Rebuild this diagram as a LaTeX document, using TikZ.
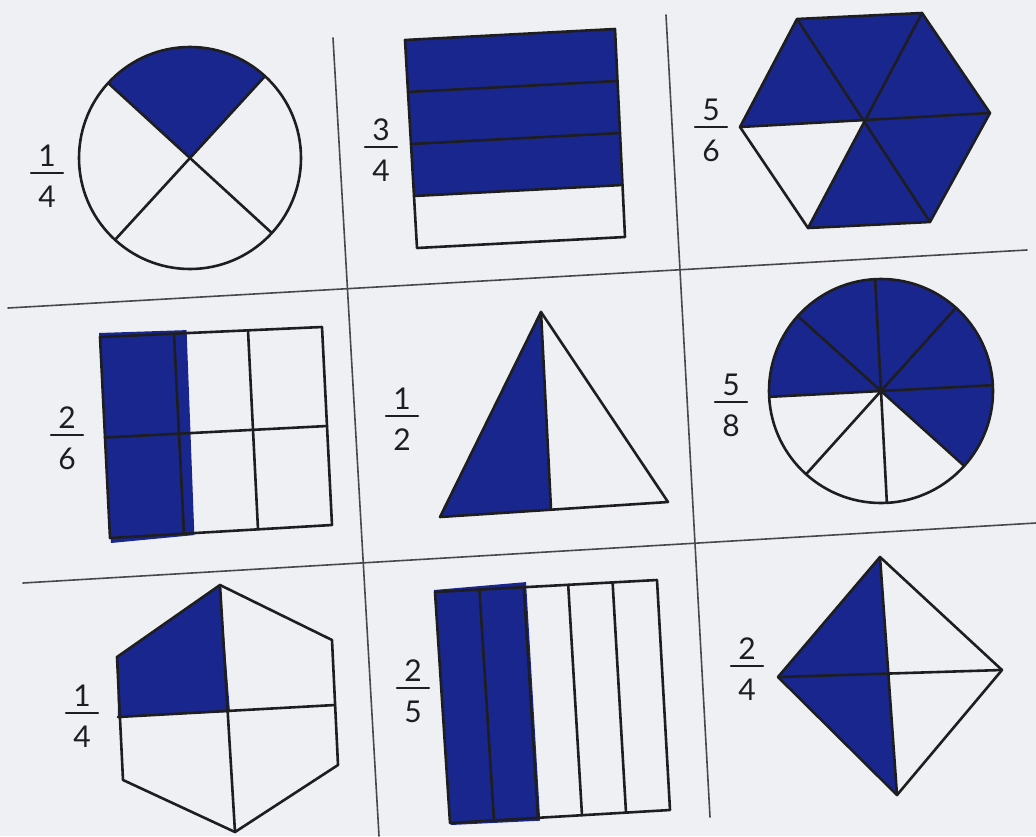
\documentclass[tikz,border=0pt]{standalone}
\usepackage{fontspec}
\setmainfont{Lato}
\usetikzlibrary{calc}
\definecolor{ink}{RGB}{24,38,142}
\definecolor{paper}{RGB}{239,240,243}
\definecolor{rulegray}{RGB}{72,72,76}
\definecolor{pen}{RGB}{30,30,32}

% fraction label: #1 name, #2 centre of the bar, #3 numerator, #4 denominator
\newcommand{\fraclabel}[4]{%
  \coordinate (#1) at (#2);
  \draw[fracbar] ($(#1)+(-16,0)$) -- ($(#1)+(16,0)$);
  \node[digit, anchor=south] (#1n) at ($(#1)+(0,-6)$) {#3};
  \node[digit, anchor=north] (#1d) at ($(#1)+(0,13)$) {#4};
}

\begin{document}
\begin{tikzpicture}[x=1pt, y=-1pt, line join=round, line cap=round,
    outline/.style={line width=2.6pt, pen},
    inked/.style={fill=ink},
    gridline/.style={line width=1.6pt, rulegray},
    fracbar/.style={line width=2.4pt, pen},
    digit/.style={inner sep=0pt, text=pen, font=\fontsize{30}{34}\selectfont}]
  \fill[paper] (0,0) rectangle (1036,836);
  \useasboundingbox (0,0) rectangle (1036,836);
  % y points down here, so angles run clockwise

  % the grid, slightly skewed as on the sheet
  \draw[gridline] (333,38) -- (379,836);
  \draw[gridline] (666,15) -- (710,817);
  \draw[gridline] (8,308) -- (1027,250);
  \draw[gridline] (23,583) -- (1036,523);

  % 1/4 circle
  \coordinate (c1) at (190,158);
  \fill[inked] (c1) -- ($(c1)+(-47.5:111)$) arc[start angle=-47.5, end angle=-137.5, radius=111] -- cycle;
  \draw[outline] (c1) circle[radius=111];
  \foreach \a in {-47.5,-137.5,-227.5,-317.5}
    \draw[outline] (c1) -- ($(c1)+(\a:111)$);
  \fraclabel{f1}{47,173}{1}{4}

  % 3/4 rectangle
  \coordinate (r2a) at (405,40); \coordinate (r2b) at (615,29);
  \coordinate (r2c) at (625,237); \coordinate (r2d) at (417,248);
  \fill[inked] (r2a) -- (r2b) -- ($(r2b)!0.75!(r2c)$) -- ($(r2a)!0.75!(r2d)$) -- cycle;
  \draw[outline] (r2a) -- (r2b) -- (r2c) -- (r2d) -- cycle;
  \foreach \t in {0.25,0.5,0.75}
    \draw[outline] ($(r2a)!\t!(r2d)$) -- ($(r2b)!\t!(r2c)$);
  \fraclabel{f2}{381,147}{3}{4}

  % 5/6 hexagon
  \coordinate (h3o) at (865,121);
  \coordinate (h3l) at (740,127); \coordinate (h3tl) at (797,19);
  \coordinate (h3tr) at (922,13); \coordinate (h3r) at (990,113);
  \coordinate (h3br) at (930,222); \coordinate (h3bl) at (808,228);
  \fill[inked] (h3l) -- (h3tl) -- (h3tr) -- (h3r) -- (h3br) -- (h3bl) -- (h3o) -- cycle;
  \draw[outline] (h3l) -- (h3tl) -- (h3tr) -- (h3r) -- (h3br) -- (h3bl) -- cycle;
  \draw[outline] (h3l) -- (h3r) (h3tl) -- (h3br) (h3tr) -- (h3bl);
  \fraclabel{f3}{711,127}{5}{6}

  % 2/6 rectangle
  \coordinate (r4a) at (100,337); \coordinate (r4b) at (322,327);
  \coordinate (r4c) at (332,525); \coordinate (r4d) at (110,538);
  \fill[inked] ($(r4a)+(-1,-4)$) -- ($(r4a)!0.39!(r4b)+(0,-3)$) -- ($(r4d)!0.38!(r4c)+(0,2)$) -- ($(r4d)+(1,5)$) -- cycle;
  \draw[outline] (r4a) -- (r4b) -- (r4c) -- (r4d) -- cycle;
  \foreach \t in {1/3,2/3}
    \draw[outline] ($(r4a)!\t!(r4b)$) -- ($(r4d)!\t!(r4c)$);
  \draw[outline] ($(r4a)!0.5!(r4d)$) -- ($(r4b)!0.5!(r4c)$);
  \fraclabel{f4}{67,435}{2}{6}

  % 1/2 triangle
  \coordinate (t5a) at (541,312); \coordinate (t5l) at (440,517);
  \coordinate (t5r) at (668,502); \coordinate (t5m) at (551,509);
  \fill[inked] (t5a) -- (t5l) -- (t5m) -- cycle;
  \draw[outline] (t5a) -- (t5l) -- (t5r) -- cycle;
  \draw[outline] (t5a) -- (t5m);
  \fraclabel{f5}{402,416}{1}{2}

  % 5/8 circle
  \coordinate (c6) at (881,391);
  \fill[inked] (c6) -- ($(c6)+(42:112)$) arc[start angle=42, end angle=-183, radius=112] -- cycle;
  \draw[outline] (c6) circle[radius=112];
  \foreach \a in {-3,-48,-93,-138,-183,-228,-273,-318}
    \draw[outline] (c6) -- ($(c6)+(\a:112)$);
  \fraclabel{f6}{731,402}{5}{8}

  % 1/4 hexagon
  \coordinate (h7t) at (220,585); \coordinate (h7ur) at (332,640);
  \coordinate (h7lr) at (338,765); \coordinate (h7b) at (235,832);
  \coordinate (h7ll) at (123,780); \coordinate (h7ul) at (117,657);
  \coordinate (h7o) at (230,712);
  \coordinate (h7w) at (118,717); \coordinate (h7e) at (335,705);
  \fill[inked] (h7ul) -- (h7t) -- (h7o) -- (h7w) -- cycle;
  \draw[outline] (h7t) -- (h7ur) -- (h7lr) -- (h7b) -- (h7ll) -- (h7ul) -- cycle;
  \draw[outline] (h7t) -- (h7b) (h7w) -- (h7e);
  \fraclabel{f7}{82,713}{1}{4}

  % 2/5 rectangle
  \coordinate (r8a) at (435,592); \coordinate (r8b) at (657,580);
  \coordinate (r8c) at (670,810); \coordinate (r8d) at (450,823);
  \fill[inked] ($(r8a)+(-1,-2)$) -- ($(r8a)!0.41!(r8b)+(0,-5)$) -- ($(r8d)!0.41!(r8c)+(0,3)$) -- ($(r8d)+(1,2)$) -- cycle;
  \draw[outline] (r8a) -- (r8b) -- (r8c) -- (r8d) -- cycle;
  \foreach \t in {0.2,0.4,0.6,0.8}
    \draw[outline] ($(r8a)!\t!(r8b)$) -- ($(r8d)!\t!(r8c)$);
  \fraclabel{f8}{413,688}{2}{5}

  % 2/4 diamond
  \coordinate (d9t) at (880,557); \coordinate (d9r) at (1002,670);
  \coordinate (d9b) at (897,795); \coordinate (d9l) at (778,677);
  \fill[inked] (d9t) -- (d9l) -- (d9b) -- cycle;
  \draw[outline] (d9t) -- (d9r) -- (d9b) -- (d9l) -- cycle;
  \draw[outline] (d9t) -- (d9b) (d9l) -- (d9r);
  \fraclabel{f9}{747,666}{2}{4}
\end{tikzpicture}
\end{document}
